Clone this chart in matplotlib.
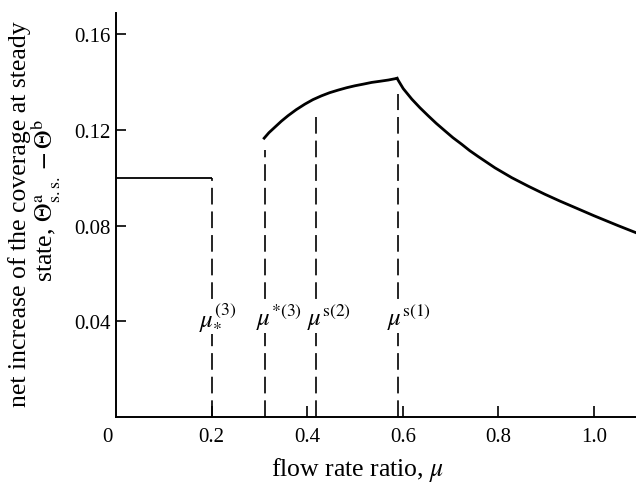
import matplotlib
matplotlib.use("Agg")
import matplotlib.pyplot as plt

plt.rcParams['font.family'] = ['Liberation Serif', 'DejaVu Serif']
plt.rcParams['mathtext.fontset'] = 'stix'
plt.rcParams['lines.scale_dashes'] = False

# data
flat_x = [0.0, 0.2]
flat_y = [0.100, 0.100]
rise_x = [0.310, 0.320, 0.333, 0.346, 0.360, 0.377, 0.395, 0.412, 0.430, 0.447, 0.465,
          0.483, 0.500, 0.518, 0.535, 0.553, 0.570, 0.588]
rise_y = [0.1165, 0.1188, 0.1212, 0.1236, 0.1259, 0.1284, 0.1307, 0.1326, 0.1342, 0.1355, 0.1366,
          0.1376, 0.1384, 0.1391, 0.1398, 0.1403, 0.1408, 0.1415]
fall_x = [0.588, 0.601, 0.619, 0.636, 0.653, 0.670, 0.688, 0.705, 0.723, 0.740, 0.758, 0.793,
          0.828, 0.863, 0.897, 0.929, 0.964, 1.000, 1.050, 1.088]
fall_y = [0.1415, 0.1372, 0.1328, 0.1292, 0.1259, 0.1227, 0.1196, 0.1167, 0.1140, 0.1113, 0.1088, 0.1041,
          0.1000, 0.0964, 0.0931, 0.0902, 0.0872, 0.0841, 0.0800, 0.0770]

vline_x = [0.2, 0.312, 0.418, 0.589]
vline_top = [0.100, 0.1117, 0.128, 0.135]
vline_labels = [r'$\mu_{*}^{(3)}$', r'$\mu^{*(3)}$', r'$\mu^{\rm s(2)}$', r'$\mu^{\rm s(1)}$']
label_left_x = [0.174, 0.293, 0.400, 0.567]
label_y = 0.042

xticks = [0.2, 0.4, 0.6, 0.8, 1.0]
xticklabels = ['0.2', '0.4', '0.6', '0.8', '1.0']
yticks = [0.04, 0.08, 0.12, 0.16]
yticklabels = ['0.04', '0.08', '0.12', '0.16']

fig = plt.figure(figsize=(6.36, 4.89), dpi=100)
ax = fig.add_axes([116/636, 71/489, 1 - 116/636, (418 - 14)/489])
ax.set_xlim(0, 1.088)
ax.set_ylim(0, 0.1688)

ax.plot(flat_x, flat_y, color='black', lw=1.3, solid_capstyle='butt')
ax.plot(rise_x, rise_y, color='black', lw=2.0)
ax.plot(fall_x, fall_y, color='black', lw=2.0)

for x, top in zip(vline_x, vline_top):
    ax.plot([x, x], [0, top], color='black', lw=1.2, dashes=(12, 5))

for lx, lab in zip(label_left_x, vline_labels):
    ax.text(lx, label_y, lab, fontsize=18, ha='left', va='center',
            bbox=dict(facecolor='white', edgecolor='none', pad=1))

for s in ['top', 'right']:
    ax.spines[s].set_visible(False)
for s in ['left', 'bottom']:
    ax.spines[s].set_linewidth(1.4)

ax.set_xticks(xticks)
ax.set_xticklabels(xticklabels)
ax.set_yticks(yticks)
ax.set_yticklabels(yticklabels)
ax.tick_params(axis='x', direction='in', length=8, width=1.2, labelsize=15, pad=7)
ax.tick_params(axis='y', direction='in', length=7, width=1.2, labelsize=15, pad=4)
ax.annotate('0', xy=(0, 0), xytext=(-6.5, -7), textcoords='offset points',
            fontsize=15, ha='center', va='top')

fig.text(358/636, 1 - 470/489, r'flow rate ratio, $\mu$', fontsize=18.5, ha='center', va='center')
fig.text(20/636, 1 - 214/489, 'net increase of the coverage at steady', fontsize=18.5,
         rotation=90, ha='center', va='center')
fig.text(46/636, 1 - 200/489, r'state, $\Theta^{\rm a}_{\rm s.s.}-\Theta^{\rm b}$', fontsize=18.5,
         rotation=90, ha='center', va='center')

fig.savefig('out.png', dpi=100)
